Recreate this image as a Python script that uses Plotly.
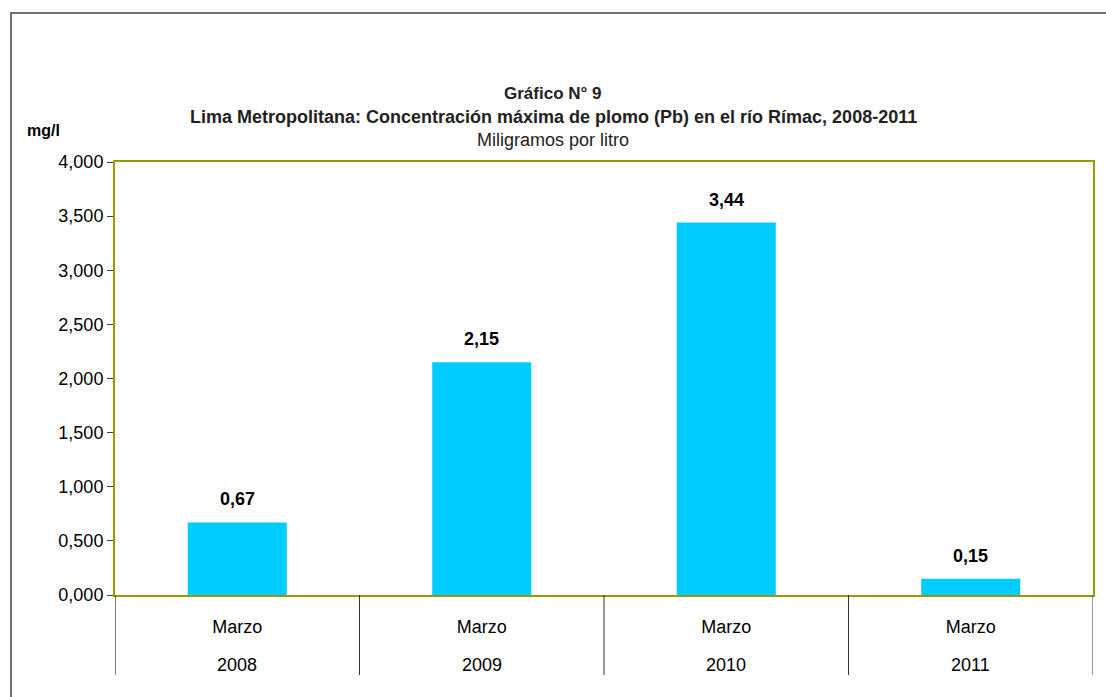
import plotly.graph_objects as go

# ── Data ─────────────────────────────────────────────────────────
YEARS   = ["2008", "2009", "2010", "2011"]
MONTHS  = ["Marzo", "Marzo", "Marzo", "Marzo"]
PB_MGL  = [0.67, 2.15, 3.44, 0.15]
Y_TICKS = [0, 0.5, 1, 1.5, 2, 2.5, 3, 3.5, 4]

# ── Theme ────────────────────────────────────────────────────────
BAR_COLOR   = "#00ccff"
FRAME_COLOR = "#999900"
BORDER_GRAY = "#707070"
FONT_MAIN   = "Liberation Sans, Arial, sans-serif"

PLOT_H = 697 - 162 - 102   # plot area height in px, used for paper offsets

fig = go.Figure()

fig.add_trace(go.Bar(
    x=YEARS, y=PB_MGL,
    marker=dict(color=BAR_COLOR, line=dict(width=0)),
    hovertemplate="Marzo %{x}: %{y:.2f} mg/l<extra></extra>",
))

# value labels above the bars
for i, v in enumerate(PB_MGL):
    fig.add_annotation(
        x=i, y=v, xref="x", yref="y",
        text=f"<b>{v:.2f}</b>".replace(".", ","),
        showarrow=False, yanchor="bottom", yshift=11,
        font=dict(family=FONT_MAIN, size=18, color="#000000"),
    )

# second category level (year) under the month labels
for i, yr in enumerate(YEARS):
    fig.add_annotation(
        x=i, y=-70 / PLOT_H, xref="x", yref="paper",
        text=yr, showarrow=False, yanchor="middle",
        font=dict(family=FONT_MAIN, size=18, color="#000000"),
    )

# category dividers below the axis
for k in range(len(YEARS) + 1):
    fig.add_shape(
        type="line", xref="x", yref="paper",
        x0=k - 0.5, x1=k - 0.5, y0=0, y1=-80 / PLOT_H,
        line=dict(color="#000000" if k == 0 else "#333333", width=1),
    )

fig.update_layout(
    width=1106, height=697,
    paper_bgcolor="#ffffff", plot_bgcolor="#ffffff",
    separators=",.",
    showlegend=False,
    bargap=0.595,
    margin=dict(l=115, r=13, t=162, b=102),
    font=dict(family=FONT_MAIN, size=18, color="#000000"),
    xaxis=dict(
        type="category", range=[-0.5, len(YEARS) - 0.5],
        tickvals=YEARS, ticktext=MONTHS, ticklabelstandoff=14,
        showline=True, mirror=True, linecolor=FRAME_COLOR, linewidth=2,
        showgrid=False, zeroline=False,
        tickfont=dict(family=FONT_MAIN, size=18, color="#000000"),
    ),
    yaxis=dict(
        range=[0, 4], tickvals=Y_TICKS, tickformat=".3f",
        showline=True, mirror=True, linecolor=FRAME_COLOR, linewidth=2,
        showgrid=False, zeroline=False,
        ticks="outside", ticklen=6, tickcolor="#404040",
        tickfont=dict(family=FONT_MAIN, size=18, color="#000000"),
    ),
)

# Titles
titles = [
    ("<b>Gráfico N° 9</b>", 1.159, 17),
    ("<b>Lima Metropolitana: Concentración máxima de plomo (Pb) en el río Rímac, 2008-2011</b>", 1.104, 18),
    ("Miligramos por litro", 1.051, 18),
]
for txt, yy, size in titles:
    fig.add_annotation(
        x=0.448, y=yy, xref="paper", yref="paper",
        text=txt, showarrow=False, xanchor="center", yanchor="middle",
        font=dict(family=FONT_MAIN, size=size, color="#222222"),
    )

fig.add_annotation(
    x=-0.0736, y=1.0716, xref="paper", yref="paper",
    text="<b>mg/l</b>", showarrow=False, xanchor="center", yanchor="middle",
    font=dict(family=FONT_MAIN, size=16, color="#000000"),
)

# Outer chart frame
fig.add_shape(
    type="rect", xref="paper", yref="paper",
    x0=-0.1063, x1=1.05, y0=-0.35, y1=1.344,
    line=dict(color=BORDER_GRAY, width=2), layer="below",
)

# page body has an 8px default margin: remove it so the figure sits at 0,0
fig.write_html(
    "out.html",
    config={"displayModeBar": False},
    post_script="document.body.style.margin='0';",
)
